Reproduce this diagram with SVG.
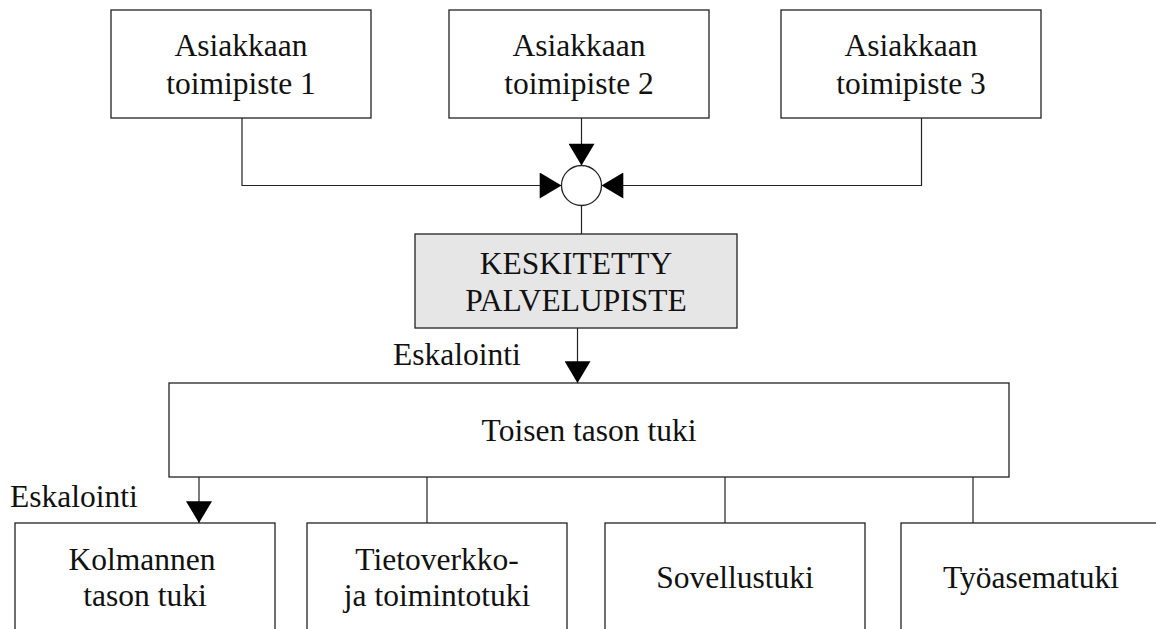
<svg xmlns="http://www.w3.org/2000/svg" width="1156" height="629" viewBox="0 0 1156 629">
<style>
.box{fill:#fff;stroke:#222;stroke-width:1.3}
.gray{fill:#e6e6e6}
.t{font-family:"Liberation Serif","Times New Roman",serif;font-size:31.5px;fill:#111;text-anchor:middle}
.l{font-family:"Liberation Serif","Times New Roman",serif;font-size:31.5px;fill:#111}
.c{fill:none;stroke:#222;stroke-width:1.2}
</style>
<defs>
<marker id="arr" markerUnits="userSpaceOnUse" markerWidth="26" markerHeight="26" viewBox="0 0 21 25" refX="21" refY="12.5" orient="auto">
<path d="M0,0 L21,12.5 L0,25 Z" fill="#000"/>
</marker>
</defs>
<rect width="1156" height="629" fill="#fff"/>
<g id="connectors">
<path class="c" d="M242,118 V185.5 H561.5" marker-end="url(#arr)"/>
<path class="c" d="M581.5,118 V165.5" marker-end="url(#arr)"/>
<path class="c" d="M921.5,118 V185.5 H601.5" marker-end="url(#arr)"/>
<path class="c" d="M581.5,205.5 V234"/>
<path class="c" d="M577.5,328 V383" marker-end="url(#arr)"/>
<path class="c" d="M199,477 V523" marker-end="url(#arr)"/>
<path class="c" d="M427,477 V523"/>
<path class="c" d="M725,477 V523"/>
<path class="c" d="M973,477 V523"/>
</g>
<g id="junction"><circle cx="581.5" cy="185.5" r="20" class="box"/></g>
<g id="toimipiste1"><rect class="box" x="111" y="10" width="260" height="108"/><text class="t" x="241" y="56">Asiakkaan</text><text class="t" x="241" y="94">toimipiste 1</text></g>
<g id="toimipiste2"><rect class="box" x="449" y="10" width="260" height="108"/><text class="t" x="579" y="56">Asiakkaan</text><text class="t" x="579" y="94">toimipiste 2</text></g>
<g id="toimipiste3"><rect class="box" x="781" y="10" width="260" height="108"/><text class="t" x="911" y="56">Asiakkaan</text><text class="t" x="911" y="94">toimipiste 3</text></g>
<g id="palvelupiste"><rect class="box gray" x="415" y="234" width="322" height="94"/><text class="t" x="576" y="274">KESKITETTY</text><text class="t" x="576" y="311">PALVELUPISTE</text></g>
<g id="label1"><text class="l" x="393" y="365">Eskalointi</text></g>
<g id="toinen"><rect class="box" x="169" y="383" width="840" height="94"/><text class="t" x="589" y="441">Toisen tason tuki</text></g>
<g id="label2"><text class="l" x="10" y="507">Eskalointi</text></g>
<g id="kolmas"><rect class="box" x="15" y="523" width="260" height="108"/><text class="t" x="142" y="570">Kolmannen</text><text class="t" x="145" y="606">tason tuki</text></g>
<g id="tietoverkko"><rect class="box" x="307" y="523" width="260" height="108"/><text class="t" x="437" y="570">Tietoverkko-</text><text class="t" x="437" y="606">ja toimintotuki</text></g>
<g id="sovellus"><rect class="box" x="605" y="523" width="260" height="108"/><text class="t" x="735" y="588">Sovellustuki</text></g>
<g id="tyoasema"><rect class="box" x="901" y="523" width="260" height="108"/><text class="t" x="1031" y="588">Työasematuki</text></g>
</svg>
